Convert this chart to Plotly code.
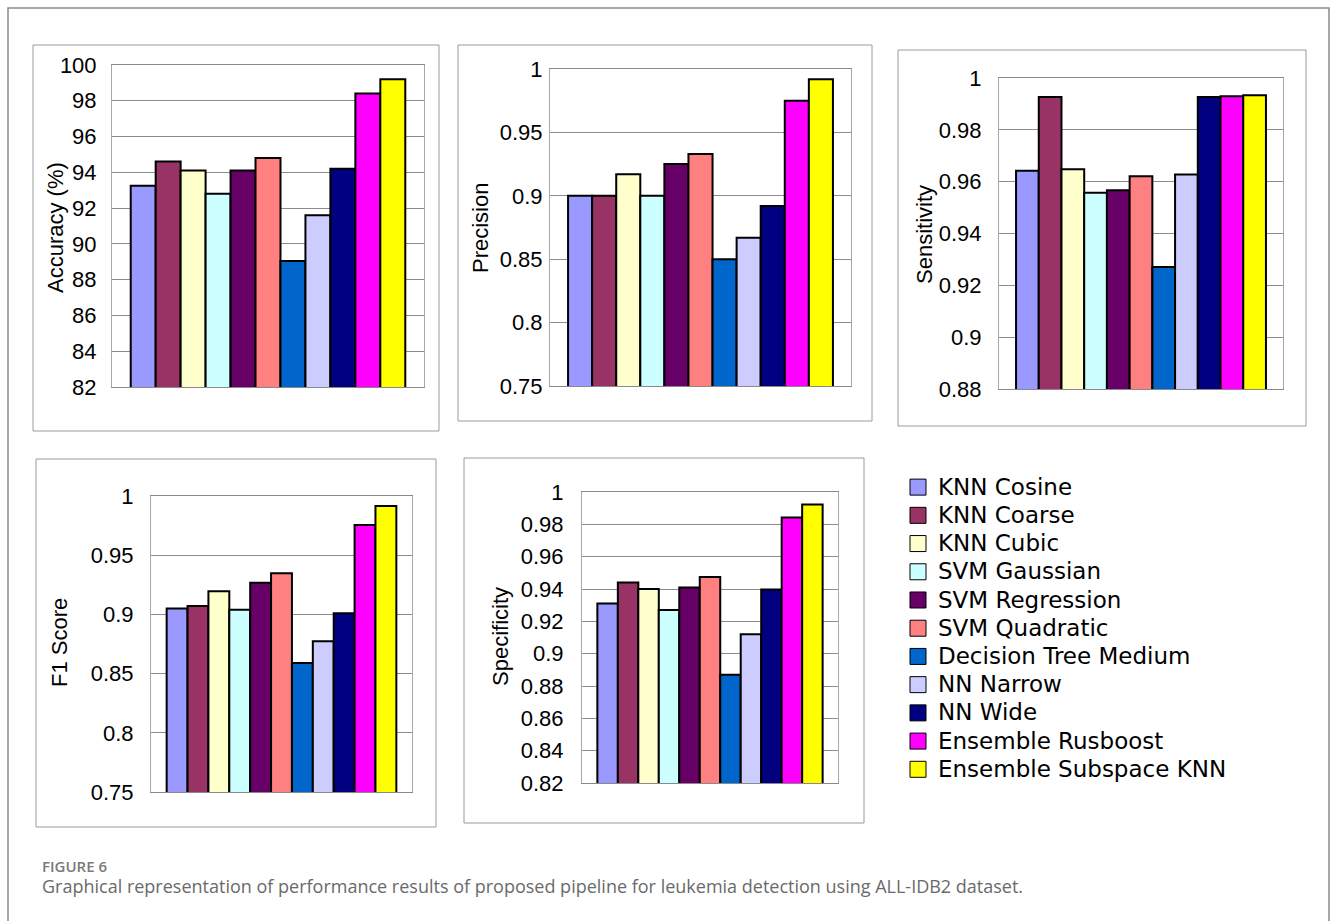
import plotly.graph_objects as go

W, H = 1336, 921

# Classifiers and their bar colours
models = [
    "KNN Cosine", "KNN Coarse", "KNN Cubic", "SVM Gaussian", "SVM Regression",
    "SVM Quadratic", "Decision Tree Medium", "NN Narrow", "NN Wide",
    "Ensemble Rusboost", "Ensemble Subspace KNN",
]
colors = [
    "#9999FF", "#993366", "#FFFFCC", "#CCFFFF", "#660066",
    "#FF8080", "#0066CC", "#CCCCFF", "#000080", "#FF00FF", "#FFFF00",
]

# Metric values per classifier (same order as models)
accuracy = [93.25, 94.6, 94.1, 92.8, 94.1, 94.8, 89.05, 91.6, 94.2, 98.4, 99.2]
precision = [0.900, 0.900, 0.917, 0.900, 0.925, 0.933, 0.850, 0.867, 0.892, 0.975, 0.992]
sensitivity = [0.9642, 0.9927, 0.9648, 0.9557, 0.9567, 0.9621, 0.9271, 0.9628, 0.9927, 0.9930, 0.9933]
f1_score = [0.905, 0.907, 0.9195, 0.904, 0.9268, 0.9347, 0.859, 0.8773, 0.9009, 0.9755, 0.9916]
specificity = [0.931, 0.944, 0.940, 0.927, 0.941, 0.9475, 0.887, 0.912, 0.9397, 0.9842, 0.9922]

# Tick values / labels for each metric axis
acc_ticks = [82, 84, 86, 88, 90, 92, 94, 96, 98, 100]
acc_labels = ["82", "84", "86", "88", "90", "92", "94", "96", "98", "100"]
prec_ticks = [0.75, 0.80, 0.85, 0.90, 0.95, 1.0]
prec_labels = ["0.75", "0.8", "0.85", "0.9", "0.95", "1"]
sens_ticks = [0.88, 0.90, 0.92, 0.94, 0.96, 0.98, 1.0]
sens_labels = ["0.88", "0.9", "0.92", "0.94", "0.96", "0.98", "1"]
f1_ticks = [0.75, 0.80, 0.85, 0.90, 0.95, 1.0]
f1_labels = ["0.75", "0.8", "0.85", "0.9", "0.95", "1"]
spec_ticks = [0.82, 0.84, 0.86, 0.88, 0.90, 0.92, 0.94, 0.96, 0.98, 1.0]
spec_labels = ["0.82", "0.84", "0.86", "0.88", "0.9", "0.92", "0.94", "0.96", "0.98", "1"]

caption_label = "FIGURE 6"
caption_text = ("Graphical representation of performance results of proposed pipeline "
                "for leukemia detection using ALL-IDB2 dataset.")


def px_x(v):
    return v / W


def px_y(v):
    return 1 - v / H


# Layout of each panel in pixels: plot area (l, t, r, b), frame (l, t, r, b),
# title centre (x, y) and tick-label standoff
panels = [
    dict(title="Accuracy (%)", values=accuracy, ticks=acc_ticks, labels=acc_labels,
         plot=(112, 65, 424, 387), frame=(33, 45, 439, 431), tpos=(55, 228), standoff=10),
    dict(title="Precision", values=precision, ticks=prec_ticks, labels=prec_labels,
         plot=(550, 69, 851, 386), frame=(458, 45, 872, 421), tpos=(480, 228), standoff=2),
    dict(title="Sensitivity", values=sensitivity, ticks=sens_ticks, labels=sens_labels,
         plot=(999, 78, 1283, 389), frame=(898, 50, 1306, 426), tpos=(924, 234), standoff=12),
    dict(title="F1 Score", values=f1_score, ticks=f1_ticks, labels=f1_labels,
         plot=(151, 496, 412, 792), frame=(36, 459, 436, 827), tpos=(59, 643), standoff=12),
    dict(title="Specificity", values=specificity, ticks=spec_ticks, labels=spec_labels,
         plot=(582, 492, 838, 783), frame=(464, 458, 864, 823), tpos=(500, 637), standoff=13),
]

TICK_FONT = dict(family="Liberation Sans, Arial, sans-serif", size=22, color="black")

fig = go.Figure()

# Legend entries (one per classifier)
for m, c in zip(models, colors):
    fig.add_trace(go.Scatter(
        x=[None], y=[None], mode="markers", name=f"<span style='font-size:23px'>{m}</span>",
        legendgroup=m, showlegend=True, hoverinfo="skip",
        marker=dict(symbol="square", size=16, color=c, line=dict(color="black", width=1)),
        xaxis="x", yaxis="y",
    ))

layout_axes = {}
shapes = []
annotations = []

for i, p in enumerate(panels):
    idx = "" if i == 0 else str(i + 1)
    xa, ya = "x" + idx, "y" + idx
    l, t, r, b = p["plot"]
    for m, c, v in zip(models, colors, p["values"]):
        fig.add_trace(go.Bar(
            x=[0], y=[v], name=m, legendgroup=m, showlegend=False,
            marker=dict(color=c, line=dict(color="black", width=2)),
            xaxis=xa, yaxis=ya, hovertemplate=f"{m}: %{{y}}<extra></extra>",
        ))
    layout_axes["xaxis" + idx] = dict(
        domain=[px_x(l), px_x(r)], anchor=ya, range=[-0.5, 0.5], automargin=False,
        showticklabels=False, showgrid=False, zeroline=False, ticks="",
        showline=True, linecolor="#8a8a8a", linewidth=1, mirror=True, fixedrange=True,
    )
    layout_axes["yaxis" + idx] = dict(
        domain=[px_y(b), px_y(t)], anchor=xa, automargin=False,
        range=[p["ticks"][0], p["ticks"][-1]],
        tickmode="array", tickvals=p["ticks"], ticktext=p["labels"],
        tickfont=TICK_FONT, ticks="", ticklabelstandoff=p["standoff"],
        showgrid=True, gridcolor="#8c8c8c", gridwidth=1, zeroline=False,
        showline=True, linecolor="#a8a8a8", linewidth=1, mirror=True, fixedrange=True,
    )
    fl, ft, fr, fb = p["frame"]
    shapes.append(dict(type="rect", xref="paper", yref="paper",
                       x0=px_x(fl), x1=px_x(fr), y0=px_y(fb), y1=px_y(ft),
                       line=dict(color="#9a9a9a", width=1), layer="below"))
    annotations.append(dict(
        text=p["title"], xref="paper", yref="paper",
        x=px_x(p["tpos"][0]), y=px_y(p["tpos"][1]), xanchor="center", yanchor="middle",
        textangle=-90, showarrow=False,
        font=dict(family="Liberation Sans, Arial, sans-serif", size=22, color="black"),
    ))

# Outer figure frame (open at the bottom edge)
shapes.append(dict(type="rect", xref="paper", yref="paper",
                   x0=px_x(8), x1=px_x(1329), y0=px_y(940), y1=px_y(8),
                   line=dict(color="#8a8a8a", width=1.5), layer="below"))

annotations.append(dict(
    text=caption_label, xref="paper", yref="paper", x=px_x(40), y=px_y(866),
    xanchor="left", yanchor="middle", showarrow=False,
    font=dict(family="Open Sans, sans-serif", size=15, color="#7a7a7a", weight=600),
))
annotations.append(dict(
    text=caption_text, xref="paper", yref="paper", x=px_x(40), y=px_y(886),
    xanchor="left", yanchor="middle", showarrow=False,
    font=dict(family="Open Sans, sans-serif", size=18, color="#6a6a6a"),
))

fig.update_layout(
    width=W, height=H, margin=dict(l=0, r=0, t=0, b=0, pad=0, autoexpand=False),
    paper_bgcolor="white", plot_bgcolor="white",
    barmode="group", bargap=0.12, bargroupgap=0,
    showlegend=True,
    legend=dict(
        x=px_x(898), y=px_y(468), xanchor="left", yanchor="top",
        font=dict(family="DejaVu Sans, sans-serif", size=19.4, color="black"),
        bgcolor="rgba(0,0,0,0)", borderwidth=0, tracegroupgap=0, itemwidth=30,
        traceorder="normal",
    ),
    shapes=shapes, annotations=annotations,
    **layout_axes,
)

fig.write_html("out.html")
